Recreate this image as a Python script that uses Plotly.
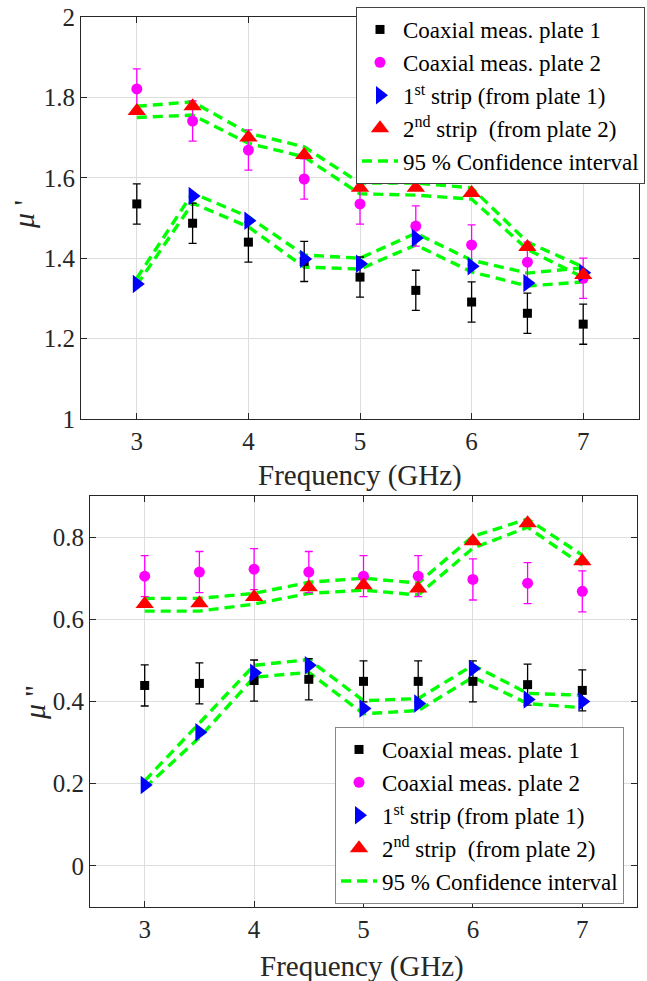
import plotly.graph_objects as go

# ---------------- data ----------------
freq = [3, 3.5, 4, 4.5, 5, 5.5, 6, 6.5, 7]

# mu' (top)
mu1_coax1 = [1.535, 1.487, 1.440, 1.392, 1.353, 1.320, 1.291, 1.263, 1.236]
mu1_coax1_err = [0.05, 0.05, 0.05, 0.05, 0.05, 0.05, 0.05, 0.05, 0.05]
mu1_coax2 = [1.821, 1.741, 1.669, 1.597, 1.535, 1.480, 1.433, 1.390, 1.350]
mu1_coax2_err = [0.05, 0.05, 0.05, 0.05, 0.05, 0.05, 0.05, 0.05, 0.05]
mu1_strip1 = [1.336, 1.555, 1.493, 1.398, 1.386, 1.450, 1.380, 1.338, 1.364]
mu1_strip2 = [1.766, 1.778, 1.700, 1.657, 1.575, 1.575, 1.562, 1.428, 1.358]
mu1_ci1_hi = [1.350, 1.562, 1.503, 1.408, 1.400, 1.462, 1.395, 1.363, 1.376]
mu1_ci1_lo = [1.333, 1.537, 1.478, 1.378, 1.373, 1.433, 1.366, 1.331, 1.341]
mu1_ci2_hi = [1.778, 1.789, 1.711, 1.677, 1.587, 1.587, 1.575, 1.440, 1.378]
mu1_ci2_lo = [1.750, 1.756, 1.686, 1.652, 1.560, 1.557, 1.547, 1.422, 1.352]

# mu'' (bottom)
mu2_coax1 = [0.439, 0.444, 0.451, 0.454, 0.449, 0.449, 0.449, 0.441, 0.427]
mu2_coax1_err = [0.05, 0.05, 0.05, 0.05, 0.05, 0.05, 0.05, 0.05, 0.05]
mu2_coax2 = [0.705, 0.715, 0.722, 0.715, 0.705, 0.705, 0.697, 0.688, 0.668]
mu2_coax2_err = [0.05, 0.05, 0.05, 0.05, 0.05, 0.05, 0.05, 0.05, 0.05]
mu2_strip1 = [0.197, 0.325, 0.470, 0.488, 0.383, 0.395, 0.480, 0.405, 0.400]
mu2_strip2 = [0.637, 0.639, 0.654, 0.678, 0.683, 0.675, 0.790, 0.834, 0.741]
mu2_ci1_hi = [0.207, 0.349, 0.488, 0.502, 0.402, 0.407, 0.488, 0.420, 0.415]
mu2_ci1_lo = [0.190, 0.312, 0.459, 0.471, 0.370, 0.378, 0.459, 0.395, 0.385]
mu2_ci2_hi = [0.651, 0.651, 0.663, 0.690, 0.700, 0.688, 0.802, 0.844, 0.756]
mu2_ci2_lo = [0.620, 0.620, 0.637, 0.663, 0.671, 0.659, 0.773, 0.824, 0.732]

names = ["Coaxial meas. plate 1", "Coaxial meas. plate 2",
         "1<sup>st</sup> strip (from plate 1)",
         "2<sup>nd</sup> strip  (from plate 2)",
         "95 % Confidence interval"]

x_ticks = [3, 4, 5, 6, 7]
y1_ticks = [1, 1.2, 1.4, 1.6, 1.8, 2]
y2_ticks = [0, 0.2, 0.4, 0.6, 0.8]

FONT = "Liberation Serif"
TXT = "#262626"
GREEN = "#00ff00"

fig = go.Figure()


def add_panel(xa, ya, leg, coax1, e1, coax2, e2, s1, s2, c1h, c1l, c2h, c2l):
    first = True
    for arr in (c1h, c1l, c2h, c2l):
        fig.add_trace(go.Scatter(
            x=freq, y=arr, mode="lines", xaxis=xa, yaxis=ya,
            line=dict(color=GREEN, width=3.4, dash="10px,6px"),
            name=names[4], legendgroup=leg + "ci", showlegend=first,
            legend=leg, legendrank=5))
        first = False
    fig.add_trace(go.Scatter(
        x=freq, y=coax1, mode="markers", xaxis=xa, yaxis=ya,
        marker=dict(symbol="square", size=9, color="black"),
        error_y=dict(type="data", array=e1, color="black", thickness=1.3, width=4),
        name=names[0], legend=leg, legendrank=1))
    fig.add_trace(go.Scatter(
        x=freq, y=coax2, mode="markers", xaxis=xa, yaxis=ya,
        marker=dict(symbol="circle", size=11, color="#ff00ff"),
        error_y=dict(type="data", array=e2, color="#ff00ff", thickness=1.3, width=4),
        name=names[1], legend=leg, legendrank=2))
    fig.add_trace(go.Scatter(
        x=freq, y=s1, mode="markers", xaxis=xa, yaxis=ya,
        marker=dict(symbol="triangle-right", size=16, color="#0000ff"),
        name=names[2], legend=leg, legendrank=3))
    fig.add_trace(go.Scatter(
        x=freq, y=s2, mode="markers", xaxis=xa, yaxis=ya,
        marker=dict(symbol="triangle-up", size=16, color="#ff0000"),
        name=names[3], legend=leg, legendrank=4))


add_panel("x", "y", "legend", mu1_coax1, mu1_coax1_err, mu1_coax2, mu1_coax2_err,
          mu1_strip1, mu1_strip2, mu1_ci1_hi, mu1_ci1_lo, mu1_ci2_hi, mu1_ci2_lo)
add_panel("x2", "y2", "legend2", mu2_coax1, mu2_coax1_err, mu2_coax2, mu2_coax2_err,
          mu2_strip1, mu2_strip2, mu2_ci1_hi, mu2_ci1_lo, mu2_ci2_hi, mu2_ci2_lo)

W, H = 647, 981
axis_common = dict(showline=True, linecolor=TXT, linewidth=1.2, mirror="ticks",
                   ticks="inside", ticklen=6, tickcolor=TXT, tickwidth=1,
                   showgrid=True, gridcolor="#dedede", gridwidth=1, zeroline=False,
                   automargin=False,
                   tickfont=dict(family=FONT, size=25, color=TXT))

leg_common = dict(xanchor="right", yanchor="top", bgcolor="white", borderwidth=1,
                  font=dict(family=FONT, size=23, color="black"),
                  tracegroupgap=0, itemwidth=36)

fig.update_layout(
    width=W, height=H,
    margin=dict(l=0, r=0, t=0, b=0, autoexpand=False),
    paper_bgcolor="white", plot_bgcolor="white",
    font=dict(family=FONT, color=TXT),
    xaxis=dict(domain=[81 / W, 639 / W], range=[2.5, 7.5], tickvals=x_ticks,
               anchor="y", **axis_common),
    yaxis=dict(domain=[1 - 419 / H, 1 - 17 / H], range=[1, 2], tickvals=y1_ticks,
               anchor="x", **axis_common),
    xaxis2=dict(domain=[90 / W, 637 / W], range=[2.5, 7.5], tickvals=x_ticks,
                anchor="y2", **axis_common),
    yaxis2=dict(domain=[1 - 907 / H, 1 - 496 / H], range=[-0.1, 0.9], tickvals=y2_ticks,
                anchor="x2", **axis_common),
    legend=dict(x=645 / W, y=1 - 7 / H, bordercolor="#444444", **leg_common),
    legend2=dict(x=624 / W, y=1 - 727 / H, bordercolor="#888888", **leg_common),
    annotations=[
        dict(text="Frequency (GHz)", x=360 / W, y=1 - 475 / H, xref="paper", yref="paper",
             xanchor="center", yanchor="middle",
             showarrow=False, font=dict(family=FONT, size=29, color=TXT)),
        dict(text="Frequency (GHz)", x=362 / W, y=1 - 966 / H, xref="paper", yref="paper",
             xanchor="center", yanchor="middle",
             showarrow=False, font=dict(family=FONT, size=29, color=TXT)),
        dict(text="<i>μ</i> '", x=24 / W, y=1 - 215 / H, xref="paper", yref="paper",
             xanchor="center", yanchor="middle",
             textangle=-90, showarrow=False, font=dict(family=FONT, size=30, color=TXT)),
        dict(text="<i>μ</i> ''", x=34 / W, y=1 - 703 / H, xref="paper", yref="paper",
             xanchor="center", yanchor="middle",
             textangle=-90, showarrow=False, font=dict(family=FONT, size=30, color=TXT)),
    ],
)

fig.write_html("out.html")
